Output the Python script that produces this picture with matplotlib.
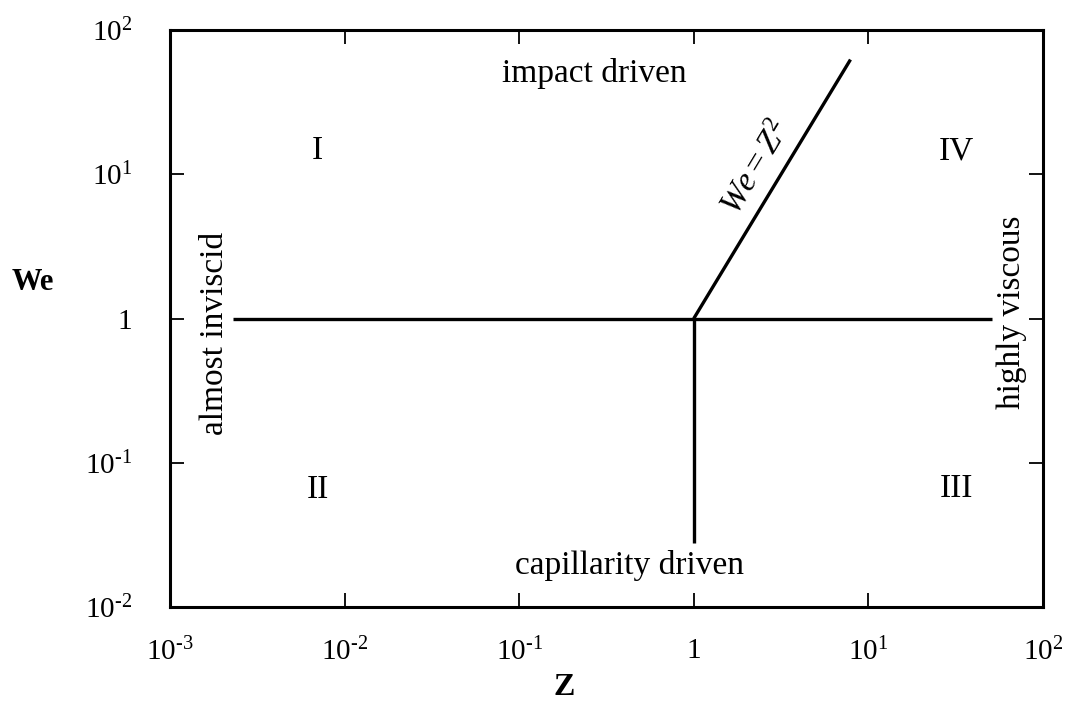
import matplotlib
matplotlib.use("Agg")
import matplotlib.pyplot as plt
from matplotlib.ticker import FixedLocator, FixedFormatter, NullLocator

plt.rcParams["font.family"] = ["Liberation Serif", "DejaVu Serif"]
plt.rcParams["mathtext.fontset"] = "custom"
plt.rcParams["mathtext.rm"] = "Liberation Serif"
plt.rcParams["mathtext.it"] = "Liberation Serif:italic"

# regime boundaries
h_z = [2.3e-3, 51]          # We = 1 line, from Z to Z
h_we = [1, 1]
v_z = [1, 1]                # Z = 1 line, going down from We = 1
v_we = [1, 0.028]
d_z = [1, 7.9]              # We = Z^2 line
d_we = [1, 62.4]

x_ticks = [1e-3, 1e-2, 1e-1, 1, 1e1, 1e2]
x_labels = [r"$10^{\text{-}3}$", r"$10^{\text{-}2}$", r"$10^{\text{-}1}$", "1",
            "$10^{1}$", "$10^{2}$"]
y_ticks = [1e-2, 1e-1, 1, 1e1, 1e2]
y_labels = [r"$10^{\text{-}2}$", r"$10^{\text{-}1}$", "1", "$10^{1}$", "$10^{2}$"]

regions = ["I", "II", "III", "IV"]
region_z = [7e-3, 7e-3, 32, 32]
region_we = [14.5, 0.065, 0.066, 14.5]

fig = plt.figure(figsize=(10.71, 7.15), dpi=100)
ax = fig.add_axes([0.1587, 0.151, 0.8151, 0.807])
ax.set_xscale("log")
ax.set_yscale("log")
ax.set_xlim(1e-3, 1e2)
ax.set_ylim(1e-2, 1e2)

lw = 2.4
ax.plot(h_z, h_we, color="black", lw=lw, solid_capstyle="butt")
ax.plot(v_z, v_we, color="black", lw=lw, solid_capstyle="butt")
ax.plot(d_z, d_we, color="black", lw=lw, solid_capstyle="butt")

for s in ax.spines.values():
    s.set_linewidth(2.2)

ax.xaxis.set_major_locator(FixedLocator(x_ticks))
ax.xaxis.set_major_formatter(FixedFormatter(x_labels))
ax.yaxis.set_major_locator(FixedLocator(y_ticks))
ax.yaxis.set_major_formatter(FixedFormatter(y_labels))
ax.xaxis.set_minor_locator(NullLocator())
ax.yaxis.set_minor_locator(NullLocator())
ax.tick_params(which="major", direction="in", top=True, right=True,
               length=10, width=1.3, labelsize=21)
ax.tick_params(axis="x", pad=22)
ax.tick_params(axis="y", pad=27)

ax.set_xlabel("Z", fontsize=23, fontweight="bold", va="center")
ax.xaxis.set_label_coords(0.452, -0.140)
ax.set_ylabel("We", fontsize=22, fontweight="bold", rotation=0,
              ha="center", va="center")
ax.yaxis.set_label_coords(-0.157, 0.563)

fs = 24
for lab, zz, ww in zip(regions, region_z, region_we):
    ax.text(zz, ww, lab, fontsize=fs, ha="center", va="center")

ax.text(0.27, 50, "impact driven", fontsize=fs, ha="center", va="center")
ax.text(0.43, 0.0195, "capillarity driven", fontsize=fs, ha="center", va="center")
ax.text(1.8e-3, 0.79, "almost inviscid", fontsize=fs, rotation=90,
        ha="center", va="center")
ax.text(66, 1.1, "highly viscous", fontsize=fs, rotation=90,
        ha="center", va="center")
ax.text(2.29, 11.1, "$We = Z^{2}$", fontsize=fs, rotation=59,
        ha="center", va="center")

fig.savefig("out.png", dpi=100, facecolor="white")
